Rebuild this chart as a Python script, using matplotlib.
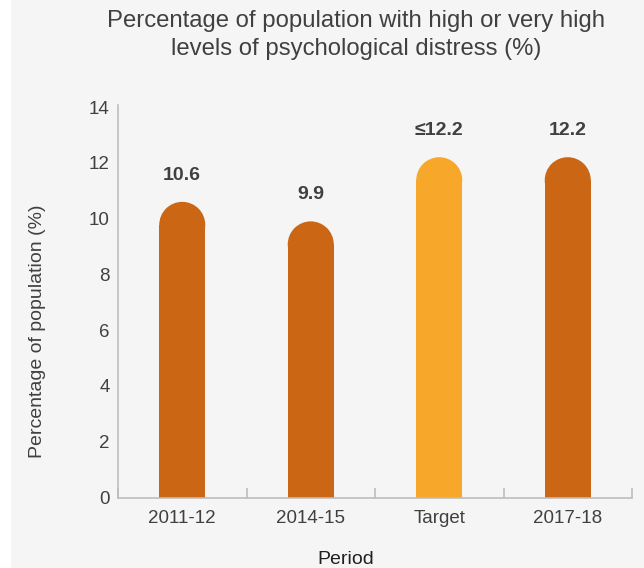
import matplotlib
matplotlib.use("Agg")
import matplotlib.pyplot as plt
from matplotlib.patches import Ellipse, Rectangle
import numpy as np

categories = ["2011-12", "2014-15", "Target", "2017-18"]
values = [10.6, 9.9, 12.2, 12.2]
labels = ["10.6", "9.9", "≤12.2", "12.2"]
colors = ["#CA6614", "#CA6614", "#F7A82B", "#CA6614"]

plt.rcParams['font.family'] = ['Liberation Sans', 'DejaVu Sans']

W, H = 644, 568
fig = plt.figure(figsize=(W / 100, H / 100), dpi=100)
fig.patch.set_facecolor("white")
fig.patches.append(Rectangle((11 / W, 0), 1 - 11 / W, 1, transform=fig.transFigure,
                             facecolor="#F5F5F5", edgecolor="none", zorder=-10))

ax_l, ax_r, ax_b, ax_t = 118, 632, 497.5, 107
ax = fig.add_axes([ax_l / W, (H - ax_b) / H, (ax_r - ax_l) / W, (ax_b - ax_t) / H])
ax.set_facecolor("none")

x = np.arange(len(categories))
ax.set_xlim(-0.5, len(categories) - 0.5)
ax.set_ylim(0, 14)

bar_w_px = 46
bar_w = bar_w_px / ((ax_r - ax_l) / len(categories))
r_px = bar_w_px / 2
r_data = r_px / ((ax_b - ax_t) / 14)

ax.bar(x, [v - r_data for v in values], width=bar_w, color=colors, edgecolor="none", zorder=2)
for xi, v, c, lab in zip(x, values, colors, labels):
    ax.add_patch(Ellipse((xi, v - r_data), bar_w, 2 * r_data, facecolor=c, edgecolor="none", zorder=2))
    ax.text(xi, v + 0.95, lab, ha="center", va="center", fontsize=14, fontweight="bold", color="#404040")

spine_c = "#BDBDBD"
for s in ["top", "right"]:
    ax.spines[s].set_visible(False)
ax.spines["left"].set_color(spine_c)
ax.spines["bottom"].set_color(spine_c)
ax.spines["left"].set_linewidth(1.2)
ax.spines["bottom"].set_linewidth(1.2)
ax.spines["left"].set_bounds(0, 14.07)

ax.set_yticks(np.arange(0, 15, 2))
ax.tick_params(axis="y", length=0, pad=6, labelsize=13.5, labelcolor="#404040")
ax.set_xticks(x)
ax.set_xticklabels(categories)
ax.tick_params(axis="x", which="major", length=0, pad=9, labelsize=13.5, labelcolor="#404040")
ax.set_xticks(np.arange(-0.5, len(categories), 1), minor=True)
ax.tick_params(axis="x", which="minor", direction="in", length=7, width=1.2, color=spine_c)

fig.text(346 / W, 1 - 559 / H, "Period", ha="center", va="center", fontsize=14, color="#202020")
fig.text(38 / W, 1 - 331 / H, "Percentage of population (%)", ha="center", va="center",
         rotation=90, fontsize=14, color="#404040")

fig.text(356 / W, 1 - 35 / H, "Percentage of population with high or very high\nlevels of psychological distress (%)",
         ha="center", va="center", fontsize=17.2, color="#404040", linespacing=1.38)

fig.savefig("out.png", dpi=100, facecolor=fig.get_facecolor())
